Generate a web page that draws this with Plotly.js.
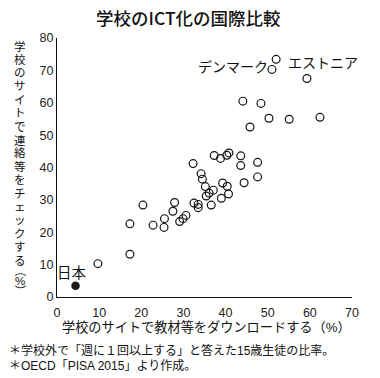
<!DOCTYPE html>
<html>
<head>
<meta charset="utf-8">
<script src="https://cdn.plot.ly/plotly-3.0.1.min.js"></script>
<style>
  html, body { margin: 0; padding: 0; background: #fff; }
  #chart { width: 380px; height: 378px; }
</style>
</head>
<body>
<div id="chart"></div>
<script>
// ---- data ----
const downloadPct = [52.0, 51.0, 59.3, 44.1, 48.4, 50.3, 55.1, 62.4, 45.8,
  32.3, 37.3, 38.8, 40.3, 40.8, 43.6, 43.6, 47.6, 47.6, 44.4,
  34.2, 34.5, 35.2, 39.3, 40.4, 37.1, 36.1, 35.4, 40.7, 39.0,
  36.6, 32.5, 33.5, 33.5, 30.6, 29.9, 29.1,
  20.4, 27.9, 27.5, 17.3, 22.8, 25.5, 25.4, 17.3, 9.7];
const checkPct = [73.4, 70.3, 67.5, 60.5, 59.8, 55.2, 54.9, 55.5, 52.5,
  41.2, 43.7, 42.8, 43.8, 44.5, 43.6, 40.6, 41.6, 37.1, 35.3,
  38.1, 36.4, 34.1, 35.2, 34.2, 33.0, 32.1, 31.2, 31.8, 30.5,
  28.4, 29.0, 28.6, 27.6, 25.2, 24.2, 23.3,
  28.4, 29.2, 26.5, 22.6, 22.2, 24.2, 21.5, 13.2, 10.3];
const japanDownload = [4.4];
const japanCheck = [3.5];
const xTicks = [0, 10, 20, 30, 40, 50, 60, 70];
const yTicks = [0, 10, 20, 30, 40, 50, 60, 70, 80];

const titleText = "学校のICT化の国際比較";
const xTitleText = "学校のサイトで教材等をダウンロードする（%）";
const yTitleText = "学校のサイトで連絡等をチェックする（%）";
const note1 = "＊学校外で「週に１回以上する」と答えた15歳生徒の比率。";
const note2 = "＊OECD「PISA 2015」より作成。";

// ---- layout geometry ----
const W = 380, H = 378;
const M = {l: 57, r: 28, t: 38, b: 81};
const pw = W - M.l - M.r, ph = H - M.t - M.b;
const px2x = px => (px - M.l) / pw;
const py2y = py => (H - M.b - py) / ph;

const FONT = "Liberation Sans, Arial, Noto Sans CJK JP, sans-serif";
const CJK = "Noto Sans CJK JP, sans-serif";

const traces = [
  {
    type: 'scatter', mode: 'markers',
    x: downloadPct, y: checkPct,
    marker: {symbol: 'circle-open', size: 7.8, color: '#111', line: {width: 1.2, color: '#111'}},
    hoverinfo: 'skip', cliponaxis: false
  },
  {
    type: 'scatter', mode: 'markers',
    x: japanDownload, y: japanCheck,
    marker: {symbol: 'circle', size: 8.5, color: '#1a1a1a'},
    hoverinfo: 'skip', cliponaxis: false
  }
];

function ann(text, px, py, font, xanchor, extra) {
  return Object.assign({
    text: text, xref: 'paper', yref: 'paper', x: px2x(px), y: py2y(py),
    xanchor: xanchor || 'center', yanchor: 'middle', showarrow: false,
    borderpad: 0, font: font
  }, extra || {});
}

const annotations = [
  ann(titleText, 188, 18, {family: CJK, size: 17.5, color: '#111', weight: 500}),
  ann(xTitleText, 206, 327, {family: FONT, size: 13.2, color: '#111'}),
  ann(note1, 8, 350, {family: FONT, size: 12, color: '#111'}, 'left'),
  ann(note2, 8, 366, {family: FONT, size: 12, color: '#111'}, 'left'),
  ann("デンマーク", 269, 66, {family: CJK, size: 14, color: '#111'}, 'right'),
  ann("エストニア", 287, 62, {family: CJK, size: 14, color: '#111'}, 'left'),
  ann("日本", 72, 271, {family: CJK, size: 14.5, color: '#111'})
];

// vertical (upright) y-axis title, one character per annotation
let cursorY = 39.5;
for (const ch of yTitleText) {
  const isParen = (ch === "（" || ch === "）");
  const h = isParen ? 8 : (ch === "%" ? 11.5 : 13.4);
  const cy = cursorY + h / 2;
  annotations.push(ann(ch, 20, cy, {family: FONT, size: 11.5, color: '#111'}, 'center',
    {textangle: isParen ? 90 : 0}));
  cursorY += h;
}

const layout = {
  width: W, height: H,
  margin: M,
  paper_bgcolor: '#fff', plot_bgcolor: '#fff',
  showlegend: false,
  xaxis: {
    range: [0, 70], tickvals: xTicks, ticktext: xTicks.map(String),
    showgrid: false, zeroline: false, showline: true, linecolor: '#111', linewidth: 1,
    ticks: '', fixedrange: true, ticklabelstandoff: 4,
    tickfont: {family: FONT, size: 12.5, color: '#222'}
  },
  yaxis: {
    range: [0, 80], tickvals: yTicks, ticktext: yTicks.map(String),
    showgrid: false, zeroline: false, showline: true, linecolor: '#111', linewidth: 1,
    ticks: '', fixedrange: true,
    tickfont: {family: FONT, size: 12.5, color: '#222'}
  },
  annotations: annotations
};

Plotly.newPlot('chart', traces, layout, {staticPlot: true, displayModeBar: false});
</script>
</body>
</html>
